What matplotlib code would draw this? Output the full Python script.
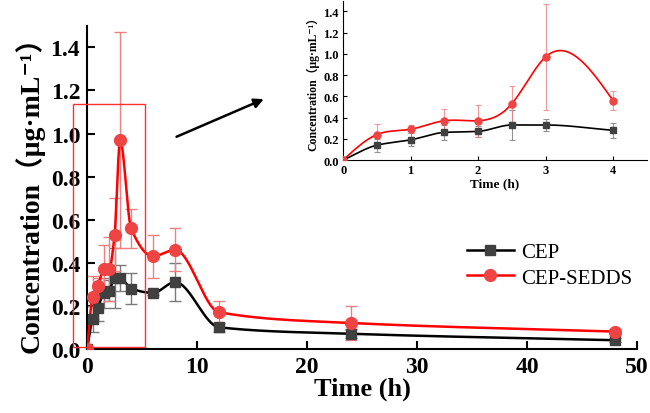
import numpy as np
import matplotlib
matplotlib.use("Agg")
from matplotlib import pyplot as plt
from matplotlib.patches import Rectangle

# Sampling times (h)
time = np.array([0, 0.5, 1, 1.5, 2, 2.5, 3, 4, 6, 8, 12, 24, 48])

# Plasma concentration (ug/mL), mean and SD
cep = np.array([0.0, 0.14, 0.19, 0.26, 0.27, 0.33, 0.33, 0.28, 0.26, 0.31, 0.10, 0.07, 0.04])
cep_sd = np.array([0.0, 0.06, 0.06, 0.07, 0.05, 0.14, 0.06, 0.07, 0.01, 0.09, 0.02, 0.02, 0.01])
sedds = np.array([0.0, 0.24, 0.29, 0.37, 0.37, 0.53, 0.97, 0.56, 0.43, 0.46, 0.17, 0.12, 0.08])
sedds_sd = np.array([0.0, 0.10, 0.04, 0.11, 0.15, 0.17, 0.50, 0.09, 0.10, 0.10, 0.05, 0.08, 0.01])

series_names = ["CEP", "CEP-SEDDS"]
x_ticks = [0, 10, 20, 30, 40, 50]
y_ticks = [0.0, 0.2, 0.4, 0.6, 0.8, 1.0, 1.2, 1.4]
inset_x_ticks = [0, 1, 2, 3, 4]
y_label = "Concentration（μg·mL⁻¹）"

SERIF = ["Liberation Serif", "Noto Sans CJK SC", "DejaVu Sans"]
plt.rcParams["font.family"] = SERIF


def pchip(x, y, xs):
    "Shape preserving cubic (Fritsch-Carlson) for drawing smooth lines"
    h = np.diff(x)
    d = np.diff(y) / h
    m = np.zeros_like(y)
    for k in range(1, len(x) - 1):
        if d[k - 1] * d[k] > 0:
            w1 = 2 * h[k] + h[k - 1]
            w2 = h[k] + 2 * h[k - 1]
            m[k] = (w1 + w2) / (w1 / d[k - 1] + w2 / d[k])
    m[0] = d[0]
    m[-1] = d[-1]
    i = np.clip(np.searchsorted(x, xs) - 1, 0, len(x) - 2)
    t = (xs - x[i]) / h[i]
    h00 = 2 * t**3 - 3 * t**2 + 1
    h10 = t**3 - 2 * t**2 + t
    h01 = -2 * t**3 + 3 * t**2
    h11 = t**3 - t**2
    return h00 * y[i] + h10 * h[i] * m[i] + h01 * y[i + 1] + h11 * h[i] * m[i + 1]


def natural_spline(x, y, xs):
    "Natural cubic spline through the points"
    n = len(x)
    h = np.diff(x)
    A = np.zeros((n, n))
    b = np.zeros(n)
    A[0, 0] = A[-1, -1] = 1.0
    for k in range(1, n - 1):
        A[k, k - 1] = h[k - 1]
        A[k, k] = 2 * (h[k - 1] + h[k])
        A[k, k + 1] = h[k]
        b[k] = 6 * ((y[k + 1] - y[k]) / h[k] - (y[k] - y[k - 1]) / h[k - 1])
    M = np.linalg.solve(A, b)
    i = np.clip(np.searchsorted(x, xs) - 1, 0, n - 2)
    a = x[i + 1] - xs
    c = xs - x[i]
    hi = h[i]
    return (M[i] * a**3 / (6 * hi) + M[i + 1] * c**3 / (6 * hi)
            + (y[i] / hi - M[i] * hi / 6) * a + (y[i + 1] / hi - M[i + 1] * hi / 6) * c)


fig = plt.figure(figsize=(6.5, 4.14), dpi=100)
ax = fig.add_axes([0.134, 0.155, 0.846, 0.78])

styles = [
    dict(line="black", face="#404040", err="#7a7a7a", marker="s", ms=7.5),
    dict(line="#ff0000", face="#ee4444", err="#f08080", marker="o", ms=8.5),
]

xs = np.linspace(0, 48, 1200)
for name, mean, sd, st in zip(series_names, [cep, sedds], [cep_sd, sedds_sd], styles):
    ax.errorbar(time, mean, yerr=sd, fmt="none", ecolor=st["err"], elinewidth=1.0,
                capsize=4, capthick=1.0, zorder=2)
    ax.plot(xs, pchip(time, mean, xs), color=st["line"], lw=1.8, zorder=3)
    ax.plot(time, mean, ls="none", marker=st["marker"], ms=st["ms"],
            mfc=st["face"], mec=st["face"], zorder=4)
    # legend proxy
    ax.plot([], [], color=st["line"], lw=1.8, marker=st["marker"], ms=st["ms"],
            mfc=st["face"], mec=st["face"], label=name)

ax.set_xlim(0, 50)
ax.set_ylim(0, 1.5)
ax.set_xticks(x_ticks)
ax.set_yticks(y_ticks)
ax.set_yticklabels([f"{v:.1f}" for v in y_ticks])
ax.spines["top"].set_visible(False)
ax.spines["right"].set_visible(False)
ax.spines["left"].set_linewidth(1.5)
ax.spines["bottom"].set_linewidth(1.5)
ax.tick_params(direction="in", length=6, width=1.5, labelsize=17, pad=5)
for lab in ax.get_xticklabels() + ax.get_yticklabels():
    lab.set_fontweight("bold")
ax.set_xlabel("Time (h)", fontsize=19, fontweight="bold", labelpad=0)
ax.set_ylabel(y_label, fontsize=20, fontweight="bold", labelpad=4)

ax.legend(loc="upper left", bbox_to_anchor=(0.69, 0.33), frameon=False, fontsize=15,
          handlelength=2.3, handletextpad=0.3, labelspacing=0.3, borderaxespad=0,
          borderpad=0)

# zoom box and arrow
ax.add_patch(Rectangle((-1.27, 0.01), 6.55, 1.125, fill=False, ec="#ff3030", lw=1.0,
                       clip_on=False, zorder=5))
ax.annotate("", xy=(16.3, 1.165), xytext=(7.9, 0.98),
            arrowprops=dict(arrowstyle="-|>", color="black", lw=1.8, mutation_scale=14),
            annotation_clip=False)

# inset, first 4 h
ins = fig.add_axes([0.528, 0.611, 0.467, 0.385])
n_in = 8
t_in = time[:n_in]
xs_in = np.linspace(0, 4, 400)
for mean, sd, st in zip([cep, sedds], [cep_sd, sedds_sd], styles):
    ins.errorbar(t_in, mean[:n_in], yerr=sd[:n_in], fmt="none", ecolor=st["err"],
                 elinewidth=0.8, capsize=2.5, capthick=0.8, alpha=0.8, zorder=2)
    fit = natural_spline(t_in, mean[:n_in], xs_in) if st["marker"] == "o" \
        else pchip(t_in, mean[:n_in], xs_in)
    ins.plot(xs_in, fit, color=st["line"], lw=1.2, zorder=3)
    ins.plot(t_in, mean[:n_in], ls="none", marker=st["marker"], ms=st["ms"] * 0.6,
             mfc=st["face"], mec=st["face"], zorder=4)

ins.set_xlim(0, 4.5)
ins.set_ylim(0, 1.5)
ins.set_xticks(inset_x_ticks)
ins.set_yticks(y_ticks)
ins.set_yticklabels([f"{v:.1f}" for v in y_ticks])
ins.patch.set_alpha(0)
ins.spines["top"].set_visible(False)
ins.spines["right"].set_visible(False)
ins.tick_params(direction="in", length=3, width=0.8, labelsize=9, pad=3)
for lab in ins.get_xticklabels() + ins.get_yticklabels():
    lab.set_fontweight("bold")
ins.set_xlabel("Time (h)", fontsize=9.5, fontweight="bold", labelpad=1)
ins.set_ylabel(y_label, fontsize=8.5, fontweight="bold", labelpad=3)

fig.savefig("out.png", dpi=100)
